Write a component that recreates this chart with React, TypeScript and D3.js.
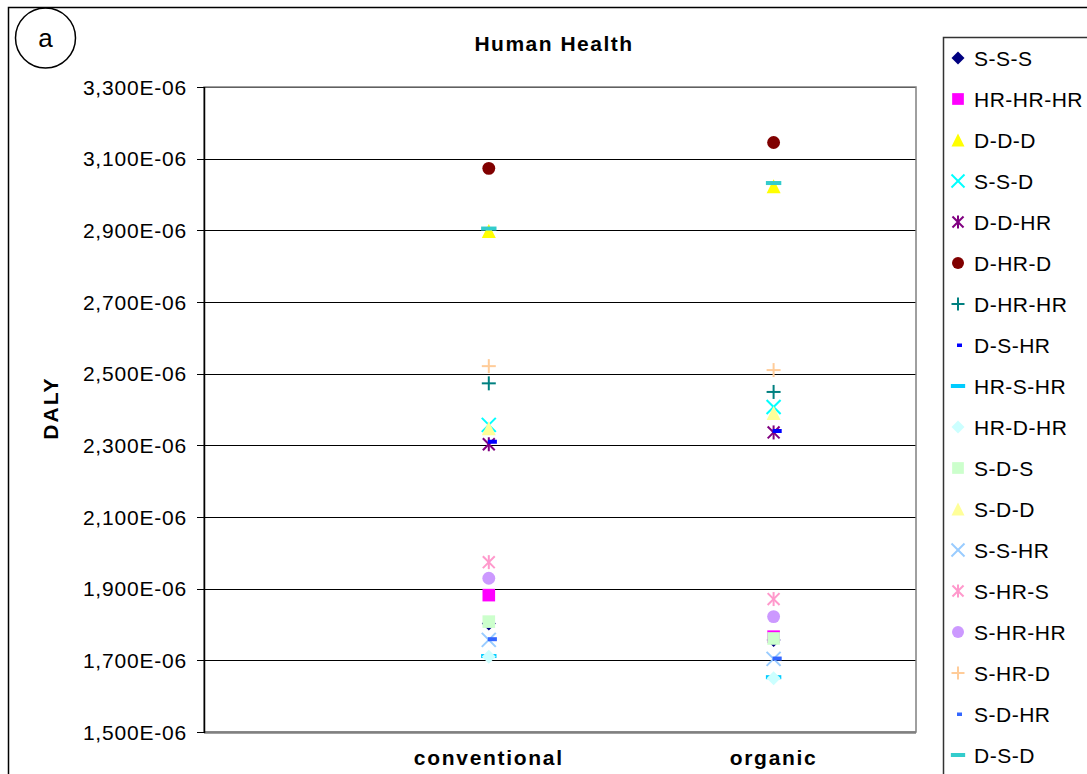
import React from "react";
import * as d3 from "d3";

const categories = ["conventional", "organic"];
const seriesNames = [
  "S-S-S", "HR-HR-HR", "D-D-D", "S-S-D", "D-D-HR", "D-HR-D", "D-HR-HR", "D-S-HR", "HR-S-HR",
  "HR-D-HR", "S-D-S", "S-D-D", "S-S-HR", "S-HR-S", "S-HR-HR", "S-HR-D", "S-D-HR", "D-S-D",
];
// values in units of 1E-06 DALY
const conventionalValues = [1.803, 1.882, 2.898, 2.357, 2.303, 3.073, 2.473, 2.31, 1.712, 1.71, 1.808, 2.348, 1.757, 1.974, 1.929, 2.521, 1.759, 2.905];
const organicValues = [1.757, 1.766, 3.023, 2.407, 2.336, 3.145, 2.449, 2.34, 1.653, 1.65, 1.761, 2.39, 1.704, 1.871, 1.822, 2.51, 1.705, 3.032];
const seriesColors = [
  "#000080", "#FF00FF", "#FFFF00", "#00FFFF", "#800080", "#800000", "#008080", "#0000FF", "#00CCFF",
  "#CCFFFF", "#CCFFCC", "#FFFF99", "#99CCFF", "#FF99CC", "#CC99FF", "#FFCC99", "#3366FF", "#33CCCC",
];
const seriesShapes = [
  "diamond", "square", "triangle", "x", "asterisk", "circle", "plus", "shortdash", "longdash",
  "diamond", "square", "triangle", "x", "asterisk", "circle", "plus", "shortdash", "longdash",
];
const yTicks = [1.5, 1.7, 1.9, 2.1, 2.3, 2.5, 2.7, 2.9, 3.1, 3.3];

const FONT = "'Liberation Sans', Arial, sans-serif";

function Marker({ shape, color, x, y, s, legend }: { shape: string; color: string; x: number; y: number; s: number; legend?: boolean }) {
  const h = s / 2;
  switch (shape) {
    case "diamond":
      return <path d={`M${x},${y - h} L${x + h},${y} L${x},${y + h} L${x - h},${y} Z`} fill={color} />;
    case "square":
      return <rect x={x - h * 0.9} y={y - h * 0.9} width={s * 0.9} height={s * 0.9} fill={color} />;
    case "triangle":
      return <path d={`M${x},${y - h} L${x + h},${y + h} L${x - h},${y + h} Z`} fill={color} />;
    case "circle":
      return <circle cx={x} cy={y} r={h * 0.92} fill={color} />;
    case "x":
      return (
        <g stroke={color} strokeWidth={2}>
          <line x1={x - h} y1={y - h} x2={x + h} y2={y + h} />
          <line x1={x - h} y1={y + h} x2={x + h} y2={y - h} />
        </g>
      );
    case "asterisk":
      return (
        <g stroke={color} strokeWidth={2}>
          <line x1={x - h * 0.85} y1={y - h * 0.85} x2={x + h * 0.85} y2={y + h * 0.85} />
          <line x1={x - h * 0.85} y1={y + h * 0.85} x2={x + h * 0.85} y2={y - h * 0.85} />
          <line x1={x} y1={y - h} x2={x} y2={y + h} />
        </g>
      );
    case "plus":
      return (
        <g stroke={color} strokeWidth={2}>
          <line x1={x - h} y1={y} x2={x + h} y2={y} />
          <line x1={x} y1={y - h} x2={x} y2={y + h} />
        </g>
      );
    case "shortdash":
      return legend ? (
        <rect x={x - 1} y={y - 1.5} width={5} height={3.5} fill={color} />
      ) : (
        <rect x={x - 1} y={y - 2} width={s * 0.65} height={4} fill={color} />
      );
    case "longdash":
      return <rect x={x - s * 0.55} y={y - 2} width={s * 1.1} height={4} fill={color} />;
    default:
      return null;
  }
}

export default function App() {
  const W = 1087;
  const H = 774;
  const plot = { left: 204, right: 916, top: 87, bottom: 732 };
  const x = d3.scaleLinear().domain([0, 2.5]).range([plot.left, plot.right]);
  const y = d3.scaleLinear().domain([1.5, 3.3]).range([plot.bottom, plot.top]);
  const fmt = (v: number) => v.toFixed(3).replace(".", ",") + "E-06";
  const valuesByCat = [conventionalValues, organicValues];

  const legendTop = 58;
  const legendStep = 41;

  return (
    <svg width={W} height={H} style={{ position: "absolute", left: 0, top: 0, background: "#fff" }} fontFamily={FONT}>
      <rect x={0} y={0} width={W} height={H} fill="#fff" />
      {/* outer chart border */}
      <rect x={8.5} y={7.5} width={W + 20} height={H + 20} fill="none" stroke="#000" strokeWidth={1.5} />
      {/* label circle */}
      <circle cx={45.5} cy={38} r={30} fill="none" stroke="#000" strokeWidth={1.5} />
      <text x={45.5} y={47} textAnchor="middle" fontSize={26} fill="#000">a</text>

      {/* title */}
      <text x={554} y={51} textAnchor="middle" fontSize={21} fontWeight="bold" style={{ letterSpacing: "1.5px" }}>Human Health</text>

      {/* gridlines */}
      {yTicks.map((t) => (
        <line key={"g" + t} x1={plot.left} x2={plot.right} y1={Math.round(y(t)) + 0.5} y2={Math.round(y(t)) + 0.5} stroke="#000" strokeWidth={1} />
      ))}
      {/* plot area border */}
      <rect x={plot.left} y={plot.top} width={plot.right - plot.left} height={plot.bottom - plot.top} fill="none" stroke="#808080" strokeWidth={1.5} />
      <line x1={plot.left} x2={plot.right} y1={plot.bottom + 0.5} y2={plot.bottom + 0.5} stroke="#808080" strokeWidth={2.5} />
      {/* y axis */}
      <line x1={plot.left + 0.5} x2={plot.left + 0.5} y1={plot.top} y2={plot.bottom + 1} stroke="#000" strokeWidth={1.5} />
      {yTicks.map((t) => (
        <g key={"t" + t}>
          <line x1={plot.left - 7} x2={plot.left} y1={Math.round(y(t)) + 0.5} y2={Math.round(y(t)) + 0.5} stroke="#000" strokeWidth={1} />
          <text x={187} y={y(t) + 7.5} textAnchor="end" fontSize={21} style={{ letterSpacing: "0.8px" }}>{fmt(t)}</text>
        </g>
      ))}
      {/* axis title */}
      <text transform={`translate(58,408) rotate(-90)`} textAnchor="middle" fontSize={21} fontWeight="bold" style={{ letterSpacing: "2px" }}>DALY</text>

      {/* category labels */}
      {categories.map((c, i) => (
        <text key={c} x={x(i + 1)} y={765} textAnchor="middle" fontSize={21} fontWeight="bold" style={{ letterSpacing: "1.7px" }}>{c}</text>
      ))}

      {/* markers: series order, later on top */}
      {seriesNames.map((name, si) => (
        <g key={name}>
          {valuesByCat.map((vals, ci) => (
            <Marker key={ci} shape={seriesShapes[si]} color={seriesColors[si]} x={x(ci + 1)} y={y(vals[si])} s={14} />
          ))}
        </g>
      ))}

      {/* legend */}
      <rect x={943.5} y={37.5} width={200} height={800} fill="#fff" stroke="#333" strokeWidth={1.5} />
      {seriesNames.map((name, i) => {
        const cy = legendTop + i * legendStep;
        return (
          <g key={"l" + name}>
            <Marker shape={seriesShapes[i]} color={seriesColors[i]} x={958} y={cy} s={13} legend />
            <text x={974} y={cy + 7.5} fontSize={21} style={{ letterSpacing: "0.5px" }}>{name}</text>
          </g>
        );
      })}
    </svg>
  );
}
